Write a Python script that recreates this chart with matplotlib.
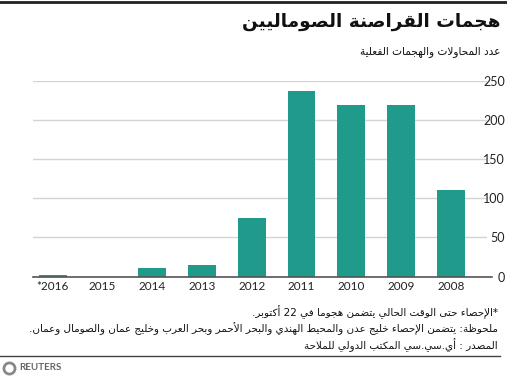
import re
import matplotlib
matplotlib.use("Agg")
import matplotlib.pyplot as plt
from matplotlib.lines import Line2D

# data (years run right to left)
years = ['*2016', '2015', '2014', '2013', '2012', '2011', '2010', '2009', '2008']
attacks = [2, 0, 11, 15, 75, 236, 219, 219, 111]
yticks = [0, 50, 100, 150, 200, 250]

title = 'هجمات القراصنة الصوماليين'
subtitle = 'عدد المحاولات والهجمات الفعلية'
notes = [
    '*الإحصاء حتى الوقت الحالي يتضمن هجوما في 22 أكتوبر.',
    'ملحوظة: يتضمن الإحصاء خليج عدن والمحيط الهندي والبحر الأحمر وبحر العرب وخليج عمان والصومال وعمان.',
    'المصدر : أي.سي.سي المكتب الدولي للملاحة',
]

# matplotlib has no arabic shaping, so pick the presentation forms by hand
# letter -> (first form code, dual joining?)  None = never joins
LETTERS = {
    'ء': (0xFE80, None), 'آ': (0xFE81, False), 'أ': (0xFE83, False),
    'ؤ': (0xFE85, False), 'إ': (0xFE87, False), 'ئ': (0xFE89, True),
    'ا': (0xFE8D, False), 'ب': (0xFE8F, True), 'ة': (0xFE93, False),
    'ت': (0xFE95, True), 'ث': (0xFE99, True), 'ج': (0xFE9D, True),
    'ح': (0xFEA1, True), 'خ': (0xFEA5, True), 'د': (0xFEA9, False),
    'ذ': (0xFEAB, False), 'ر': (0xFEAD, False), 'ز': (0xFEAF, False),
    'س': (0xFEB1, True), 'ش': (0xFEB5, True), 'ص': (0xFEB9, True),
    'ض': (0xFEBD, True), 'ط': (0xFEC1, True), 'ظ': (0xFEC5, True),
    'ع': (0xFEC9, True), 'غ': (0xFECD, True), 'ف': (0xFED1, True),
    'ق': (0xFED5, True), 'ك': (0xFED9, True), 'ل': (0xFEDD, True),
    'م': (0xFEE1, True), 'ن': (0xFEE5, True), 'ه': (0xFEE9, True),
    'و': (0xFEED, False), 'ى': (0xFEEF, False), 'ي': (0xFEF1, True),
}
LAM_ALEF = {'آ': 0xFEF5, 'أ': 0xFEF7, 'إ': 0xFEF9, 'ا': 0xFEFB}


def joins_next(u):
    return u[0] == 'C' and u[1] in LETTERS and LETTERS[u[1]][1] is True


def joins_prev(u):
    return u[0] == 'LA' or (u[1] in LETTERS and LETTERS[u[1]][1] is not None)


def ar(text):
    units = []
    i = 0
    while i < len(text):
        c = text[i]
        if c == 'ل' and i + 1 < len(text) and text[i + 1] in LAM_ALEF:
            units.append(('LA', text[i + 1]))
            i += 2
        else:
            units.append(('C', c))
            i += 1
    out = []
    for k, u in enumerate(units):
        prev = k > 0 and joins_next(units[k - 1])
        if u[0] == 'LA':
            out.append(chr(LAM_ALEF[u[1]] + (1 if prev else 0)))
            continue
        c = u[1]
        if c not in LETTERS:
            out.append(c)
            continue
        base, dual = LETTERS[c]
        if dual is None:
            out.append(chr(base))
            continue
        nxt = dual and k + 1 < len(units) and joins_prev(units[k + 1])
        if prev and nxt:
            f = 3
        elif prev:
            f = 1
        elif nxt:
            f = 2
        else:
            f = 0
        out.append(chr(base + f))
    vis = ''.join(out)[::-1]
    return re.sub(r'[0-9A-Za-z]+', lambda m: m.group()[::-1], vis)


W, H = 507, 378
fig = plt.figure(figsize=(W / 100, H / 100), dpi=100)
ax = fig.add_axes([33 / W, (H - 276.7) / H, (487 - 33) / W, (276.7 - 80.5) / H])

x = list(range(len(years)))
ax.bar(x, attacks, width=0.56, color='#1f9a8b', zorder=3)

ax.set_xlim(-0.4, 8.73)
ax.set_ylim(0, 250)
ax.set_yticks(yticks)
ax.yaxis.tick_right()
ax.grid(axis='y', color='#d4d4d4', linewidth=1, zorder=0)
for s in ax.spines.values():
    s.set_visible(False)
ax.axhline(0, xmin=0, xmax=1.01, color='#555555', linewidth=1.2, clip_on=False, zorder=4)

ax.set_xticks(x)
ax.set_xticklabels(years, fontfamily='Lato', fontsize=8.5, color='#222222')
ax.tick_params(axis='x', length=0, pad=3)
ax.tick_params(axis='y', length=0, pad=13, labelsize=9, labelcolor='#222222')
for t in ax.get_yticklabels():
    t.set_horizontalalignment('right')
    t.set_fontfamily('Lato')

# header
fig.add_artist(Line2D([0, 1], [1 - 1.5 / H, 1 - 1.5 / H], color='#222222', linewidth=2))
fig.text(500 / W, 1 - 22 / H, ar(title), ha='right', va='center',
         fontsize=13.3, fontweight='bold', family='DejaVu Sans', color='#111111')
fig.text(500 / W, 1 - 52 / H, ar(subtitle), ha='right', va='center',
         fontsize=7.6, family='DejaVu Sans', color='#111111')

# footnotes
for yy, line in zip([312, 329, 345], notes):
    fig.text(498 / W, 1 - yy / H, ar(line), ha='right', va='center',
             fontsize=7.5, family='DejaVu Sans', color='#111111')

fig.add_artist(Line2D([0, 500 / W], [1 - 356 / H, 1 - 356 / H], color='#444444', linewidth=1))

# reuters mark
fig.add_artist(Line2D([9 / W], [1 - 368 / H], marker='o', markersize=8,
                      markerfacecolor='white', markeredgecolor='#888888', markeredgewidth=2))
fig.text(19 / W, 1 - 368 / H, 'REUTERS', ha='left', va='center', fontsize=7,
         fontweight='bold', family='Lato', color='#666666')

fig.savefig('out.png', dpi=100)
